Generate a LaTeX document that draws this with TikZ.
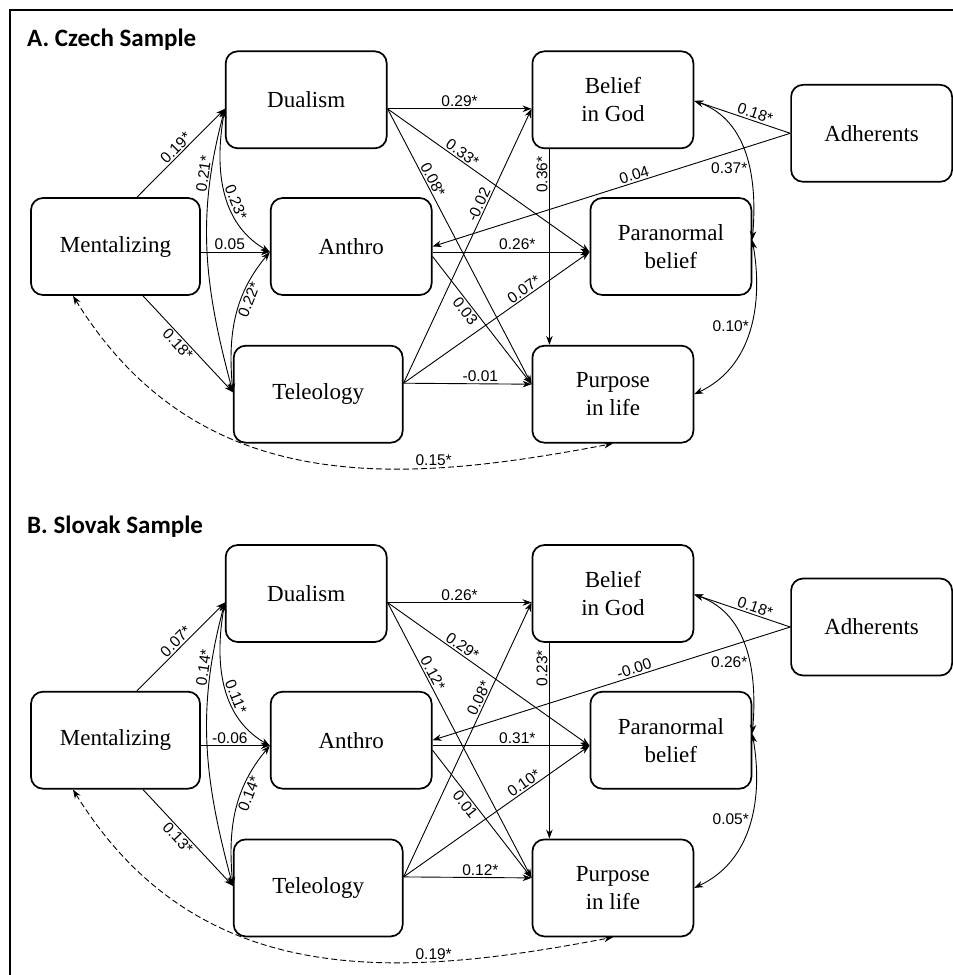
\documentclass[tikz,border=0pt]{standalone}
\usepackage{fontspec}
\setmainfont{Liberation Serif}
\newfontfamily\coeffont{Liberation Sans}
\newfontfamily\headfont{Carlito}
\usetikzlibrary{positioning,arrows.meta}

\tikzset{
  measure/.style={draw, line width=1.7pt, rounded corners=12pt, align=center,
    minimum width=161pt, minimum height=97pt, inner sep=0pt,
    font=\fontsize{23}{28}\selectfont},
  measurew/.style={measure, minimum width=169pt},
  reg/.style={line width=0.9pt, -{Stealth[length=9pt,width=6.5pt]}},
  cov/.style={line width=0.9pt, {Stealth[length=9pt,width=6.5pt]}-{Stealth[length=9pt,width=6.5pt]}},
  coef/.style={font=\coeffont\fontsize{15.5}{18}\selectfont, inner sep=1.5pt},
  paneltitle/.style={font=\headfont\bfseries\fontsize{25}{30}\selectfont, anchor=base west, inner sep=0pt},
}

\begin{document}
\begin{tikzpicture}[x=1pt, y=1pt]
    \useasboundingbox (0,0) rectangle (953,-975);
    \draw[line width=2.5pt] (10,-975) |- (953,-10);

    % A. Czech sample
    \node[paneltitle] (titA) at (27,-46) {A. Czech Sample};
    \node[measurew] (menA) at (115.5,-246.5) {Mentalizing};
    \node[measure, right=69pt of menA] (antA) {Anthro};
    \node[measure, above right=48pt and 24pt of menA] (duaA) {Dualism};
    \node[measurew, below right=49pt and 32pt of menA] (telA) {Teleology};
    \node[measure, right=144pt of duaA] (godA) {Belief\\in God};
    \node[measure, right=157pt of antA] (parA) {Paranormal\\belief};
    \node[measure, right=128pt of telA] (purA) {Purpose\\in life};
    \node[measure, right=96pt of godA, yshift=-33.5pt] (adhA) {Adherents};

    \draw[reg] ([xshift=21.5pt]menA.north) -- node[coef, sloped, above] {0.19*} ([yshift=-9pt]duaA.west);
    \draw[reg] ([yshift=-5.5pt]menA.east) -- node[coef, above, pos=0.42] {0.05} ([yshift=-5.5pt]antA.west);
    \draw[reg] ([xshift=27.5pt]menA.south) -- node[coef, sloped, below, pos=0.45] {0.18*} ([yshift=2pt]telA.west);
    \draw[cov] ([yshift=-9pt]duaA.west) to[out=-105, in=105] node[coef, sloped, above, pos=0.22] {0.21*} ([yshift=2pt]telA.west);
    \draw[cov] ([yshift=-9pt]duaA.west) to[out=-100, in=150] node[coef, sloped, above, pos=0.6] {0.23*} ([yshift=-5.5pt]antA.west);
    \draw[cov] ([yshift=-5.5pt]antA.west) to[out=-130, in=95] node[coef, sloped, below, pos=0.35] {0.22*} ([yshift=2pt]telA.west);

    \draw[reg] ([yshift=-9pt]duaA.east) -- node[coef, above] {0.29*} ([yshift=-9pt]godA.west);
    \draw[reg] ([yshift=-9pt]duaA.east) -- node[coef, sloped, above, pos=0.35] {0.33*} ([yshift=-5.5pt]parA.west);
    \draw[reg] ([yshift=-9pt]duaA.east) -- node[coef, sloped, above, pos=0.27] {0.08*} ([yshift=10pt]purA.west);
    \draw[reg] ([yshift=-5.5pt]antA.east) -- node[coef, above, pos=0.54] {0.26*} ([yshift=-5.5pt]parA.west);
    \draw[reg] ([yshift=-10pt]antA.east) -- node[coef, sloped, below, pos=0.39] {0.03} ([yshift=10pt]purA.west);
    \draw[reg] ([yshift=11pt]telA.east) -- node[coef, sloped, above, pos=0.64] {-0.02} ([yshift=-9pt]godA.west);
    \draw[reg] ([yshift=11pt]telA.east) -- node[coef, sloped, above, pos=0.67] {0.07*} ([yshift=-5.5pt]parA.west);
    \draw[reg] ([yshift=11pt]telA.east) -- node[coef, above, pos=0.6] {-0.01} ([yshift=10pt]purA.west);
    \draw[reg] ([xshift=-63.5pt]godA.south) -- node[coef, rotate=90, anchor=south, pos=0.13] {0.36*} ([xshift=-63.5pt]purA.north);
    \draw[reg] (adhA.west) -- node[coef, sloped, above, pos=0.39] {0.18*} ([yshift=-1pt]godA.east);
    \draw[reg] (adhA.west) -- node[coef, sloped, above, pos=0.43] {0.04} (antA.east);
    \draw[cov] ([yshift=-1pt]godA.east) to[out=-20, in=85] node[coef, left, pos=0.58] {0.37*} ([yshift=6.5pt]parA.east);
    \draw[cov] ([yshift=6.5pt]parA.east) to[out=-80, in=25] node[coef, left, pos=0.47] {0.10*} (purA.east);
    \draw[cov, dash pattern=on 6pt off 3pt] ([xshift=-42.5pt]menA.south) .. controls +(127,-205) and +(-210,-40) .. node[coef, above, pos=0.71] {0.15*} (purA.south);

    % B. Slovak sample
    \node[paneltitle] (titB) at (27,-533) {B. Slovak Sample};
    \node[measurew, below=395pt of menA] (menB) {Mentalizing};
    \node[measure, right=69pt of menB] (antB) {Anthro};
    \node[measure, above right=48pt and 24pt of menB] (duaB) {Dualism};
    \node[measurew, below right=49pt and 32pt of menB] (telB) {Teleology};
    \node[measure, right=144pt of duaB] (godB) {Belief\\in God};
    \node[measure, right=157pt of antB] (parB) {Paranormal\\belief};
    \node[measure, right=128pt of telB] (purB) {Purpose\\in life};
    \node[measure, right=96pt of godB, yshift=-33.5pt] (adhB) {Adherents};

    \draw[reg] ([xshift=21.5pt]menB.north) -- node[coef, sloped, above] {0.07*} ([yshift=-9pt]duaB.west);
    \draw[reg] ([yshift=-5.5pt]menB.east) -- node[coef, above, pos=0.42] {-0.06} ([yshift=-5.5pt]antB.west);
    \draw[reg] ([xshift=27.5pt]menB.south) -- node[coef, sloped, below, pos=0.45] {0.13*} ([yshift=2pt]telB.west);
    \draw[cov] ([yshift=-9pt]duaB.west) to[out=-105, in=105] node[coef, sloped, above, pos=0.22] {0.14*} ([yshift=2pt]telB.west);
    \draw[cov] ([yshift=-9pt]duaB.west) to[out=-100, in=150] node[coef, sloped, above, pos=0.6] {0.11*} ([yshift=-5.5pt]antB.west);
    \draw[cov] ([yshift=-5.5pt]antB.west) to[out=-130, in=95] node[coef, sloped, below, pos=0.35] {0.14*} ([yshift=2pt]telB.west);

    \draw[reg] ([yshift=-9pt]duaB.east) -- node[coef, above] {0.26*} ([yshift=-9pt]godB.west);
    \draw[reg] ([yshift=-9pt]duaB.east) -- node[coef, sloped, above, pos=0.35] {0.29*} ([yshift=-5.5pt]parB.west);
    \draw[reg] ([yshift=-9pt]duaB.east) -- node[coef, sloped, above, pos=0.27] {0.12*} ([yshift=10pt]purB.west);
    \draw[reg] ([yshift=-5.5pt]antB.east) -- node[coef, above, pos=0.54] {0.31*} ([yshift=-5.5pt]parB.west);
    \draw[reg] ([yshift=-10pt]antB.east) -- node[coef, sloped, below, pos=0.39] {0.01} ([yshift=10pt]purB.west);
    \draw[reg] ([yshift=11pt]telB.east) -- node[coef, sloped, above, pos=0.64] {0.08*} ([yshift=-9pt]godB.west);
    \draw[reg] ([yshift=11pt]telB.east) -- node[coef, sloped, above, pos=0.67] {0.10*} ([yshift=-5.5pt]parB.west);
    \draw[reg] ([yshift=11pt]telB.east) -- node[coef, above, pos=0.6] {0.12*} ([yshift=10pt]purB.west);
    \draw[reg] ([xshift=-63.5pt]godB.south) -- node[coef, rotate=90, anchor=south, pos=0.13] {0.23*} ([xshift=-63.5pt]purB.north);
    \draw[reg] (adhB.west) -- node[coef, sloped, above, pos=0.39] {0.18*} ([yshift=-1pt]godB.east);
    \draw[reg] (adhB.west) -- node[coef, sloped, above, pos=0.43] {-0.00} (antB.east);
    \draw[cov] ([yshift=-1pt]godB.east) to[out=-20, in=85] node[coef, left, pos=0.58] {0.26*} ([yshift=6.5pt]parB.east);
    \draw[cov] ([yshift=6.5pt]parB.east) to[out=-80, in=25] node[coef, left, pos=0.47] {0.05*} (purB.east);
    \draw[cov, dash pattern=on 6pt off 3pt] ([xshift=-42.5pt]menB.south) .. controls +(127,-205) and +(-210,-40) .. node[coef, above, pos=0.71] {0.19*} (purB.south);
\end{tikzpicture}
\end{document}
